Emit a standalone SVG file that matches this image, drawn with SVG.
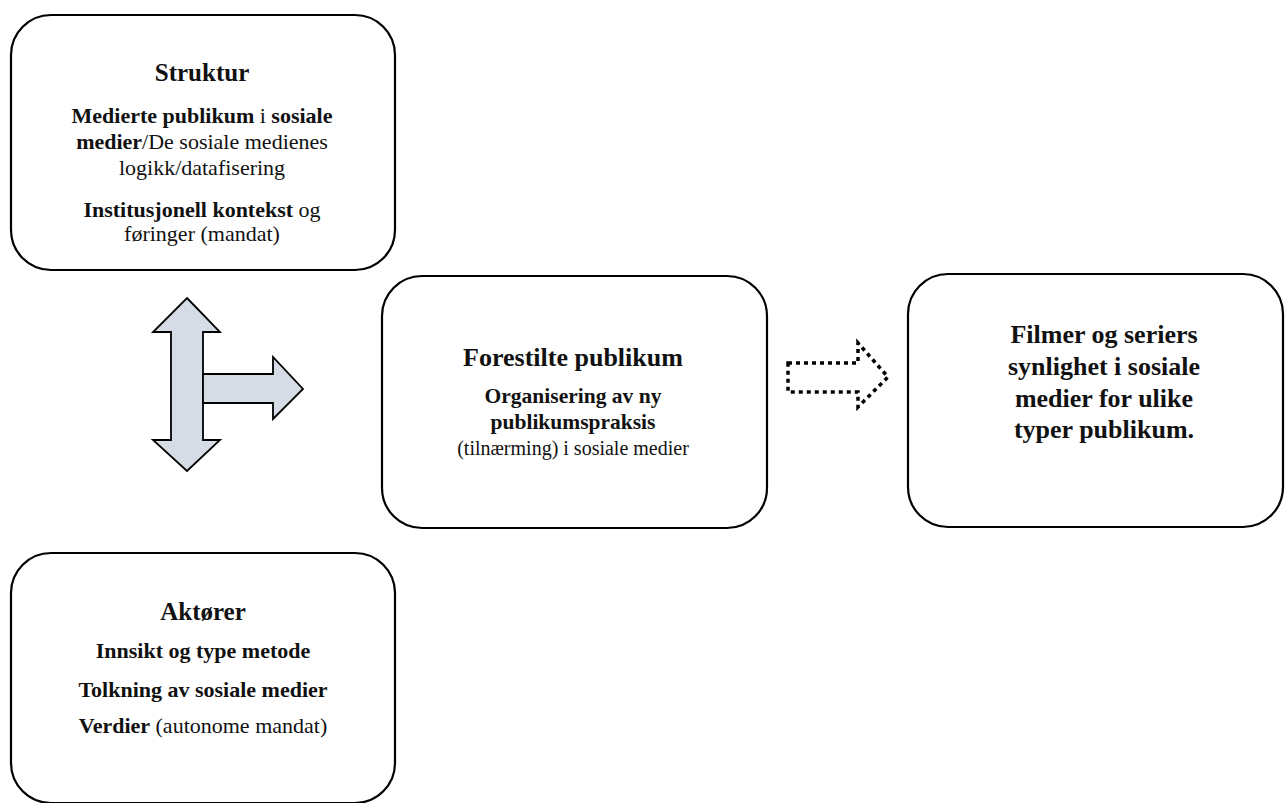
<svg xmlns="http://www.w3.org/2000/svg" width="1285" height="803" viewBox="0 0 1285 803">
<style>
.box{fill:#ffffff;stroke:#000000;stroke-width:2.2}
text{font-family:"Liberation Serif","Times New Roman",serif;fill:#111111;text-anchor:middle}
.t{font-weight:bold;font-size:25px}
.b{font-weight:bold;font-size:22px}
.r{font-weight:normal}
.mb{font-weight:bold;font-size:21.5px}
.mr{font-weight:normal;font-size:20px}
.rb{font-weight:bold;font-size:26px}
.arrow{fill:#d6dce5;stroke:#000000;stroke-width:1.8;stroke-linejoin:miter}
.dotted{fill:none;stroke:#000000;stroke-width:3.5;stroke-dasharray:4 4}
</style>
<rect width="1285" height="803" fill="#ffffff"/>
<g id="struktur">
<rect class="box" x="11" y="15" width="384" height="255" rx="40" ry="40"/>
<text class="t" x="202" y="81">Struktur</text>
<text class="b" x="202" y="123">Medierte publikum<tspan class="r"> i </tspan>sosiale</text>
<text class="b" x="202" y="149">medier<tspan class="r">/De sosiale medienes</tspan></text>
<text class="b r" x="202" y="175" style="font-weight:normal">logikk/datafisering</text>
<text class="b" x="202" y="217">Institusjonell kontekst<tspan class="r"> og</tspan></text>
<text class="b" x="202" y="241" style="font-weight:normal">føringer (mandat)</text>
</g>
<g id="forestilte">
<rect class="box" x="382" y="276" width="385" height="252" rx="40" ry="40"/>
<text class="rb" x="573" y="366">Forestilte publikum</text>
<text class="mb" x="573" y="403">Organisering av ny</text>
<text class="mb" x="573" y="429">publikumspraksis</text>
<text class="mr" x="573" y="455">(tilnærming) i sosiale medier</text>
</g>
<g id="filmer">
<rect class="box" x="908" y="274" width="375" height="253" rx="40" ry="40"/>
<text class="rb" x="1104" y="343">Filmer og seriers</text>
<text class="rb" x="1104" y="375">synlighet i sosiale</text>
<text class="rb" x="1104" y="407">medier for ulike</text>
<text class="rb" x="1104" y="438">typer publikum.</text>
</g>
<g id="aktorer">
<rect class="box" x="11" y="553" width="384" height="250" rx="40" ry="40"/>
<text class="t" x="203" y="620">Aktører</text>
<text class="b" x="203" y="658">Innsikt og type metode</text>
<text class="b" x="203" y="697">Tolkning av sosiale medier</text>
<text class="b" x="203" y="733">Verdier<tspan class="r"> (autonome mandat)</tspan></text>
</g>
<g id="connectors">
<polygon class="arrow" points="187,298 220,332 203,332 203,440 220,440 187,471 153,440 171,440 171,332 153,332"/>
<polygon class="arrow" points="203,374 273,374 273,357 303,389 273,419 273,403 203,403"/>
<polygon class="dotted" points="788,363 858,363 858,343 888,377 858,407 858,392 788,392"/>
</g>
</svg>
